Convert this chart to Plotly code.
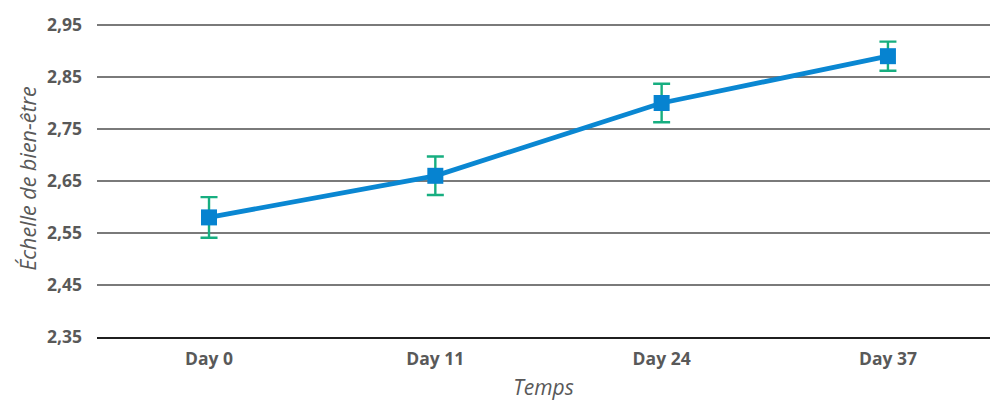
import plotly.graph_objects as go

categories = ["Day 0", "Day 11", "Day 24", "Day 37"]
values = [2.58, 2.66, 2.80, 2.89]
errors = [0.039, 0.037, 0.037, 0.028]
y_ticks = [2.35, 2.45, 2.55, 2.65, 2.75, 2.85, 2.95]
y_tick_labels = ["2,35", "2,45", "2,55", "2,65", "2,75", "2,85", "2,95"]

fig = go.Figure()
fig.add_trace(go.Scatter(
    x=categories, y=values,
    mode="lines+markers",
    line=dict(color="#0A87D2", width=4.8),
    marker=dict(symbol="square", size=16, color="#0683D0"),
    error_y=dict(type="data", array=errors, visible=True,
                 color="#17AE80", thickness=2.4, width=8.5),
    showlegend=False,
))

fig.update_layout(
    width=990, height=401,
    margin=dict(l=97, r=0, t=20, b=64, autoexpand=False),
    paper_bgcolor="white", plot_bgcolor="white",
    font=dict(family="Open Sans", color="#595959"),
)
fig.update_xaxes(
    type="category",
    range=[-0.495, 3.451],
    showgrid=False,
    tickfont=dict(size=17.5, family="Open Sans", weight="bold", color="#595959"),
    title=dict(text="<i>Temps</i>", font=dict(size=21, color="#595959"), standoff=13),
    ticks="", ticklabelstandoff=5,
    showline=True, linecolor="#1f1f1f", linewidth=2,
)
fig.update_yaxes(
    range=[2.35, 2.9596],
    tickvals=y_ticks, ticktext=y_tick_labels,
    showgrid=True, gridcolor="#7a7a7a", gridwidth=1.5,
    zeroline=False,
    showline=False,
    tickfont=dict(size=17.5, family="Open Sans", weight="bold", color="#595959"),
    title=dict(text="<i>Échelle de bien-être</i>", font=dict(size=21.5, color="#595959"), standoff=4),
    ticks="", ticklabelstandoff=14,
)

fig.write_html("out.html", config={"displayModeBar": False},
               post_script="document.body.style.margin='0px';document.body.style.overflow='hidden';")
